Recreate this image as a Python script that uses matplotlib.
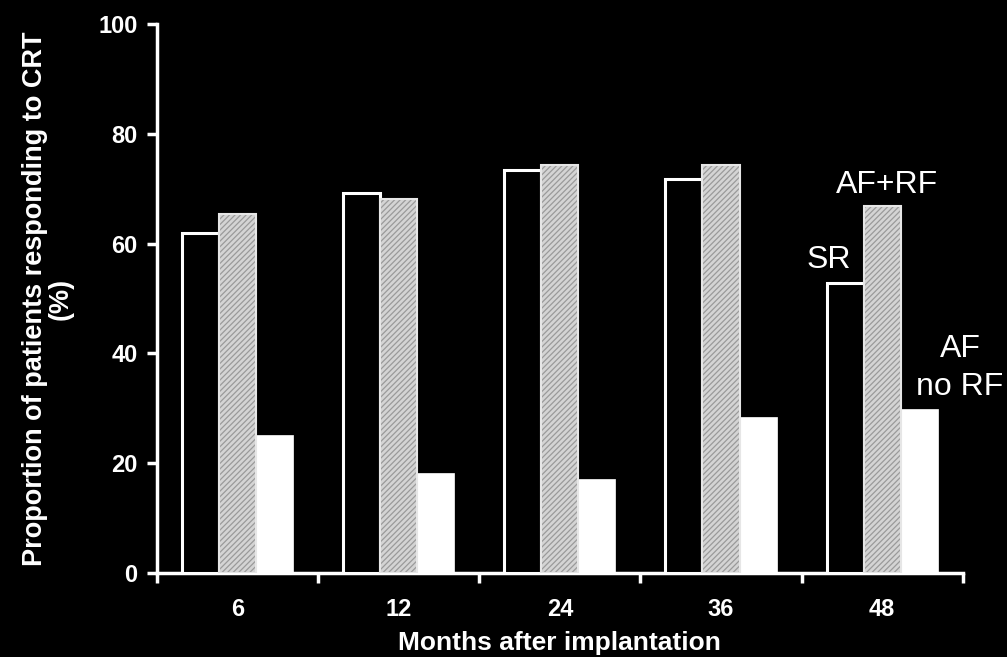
import numpy as np
import matplotlib

matplotlib.use("Agg")
import matplotlib.pyplot as plt

# Values
months = ["6", "12", "24", "36", "48"]
sr = [62, 69.2, 73.4, 71.8, 52.8]
af_rf = [65.4, 68.1, 74.3, 74.3, 66.8]
af_no_rf = [25.1, 18.2, 17.1, 28.4, 29.9]
y_ticks = [0, 20, 40, 60, 80, 100]

plt.rcParams["font.family"] = ["Liberation Sans", "DejaVu Sans"]
plt.rcParams["hatch.linewidth"] = 0.9

fig = plt.figure(figsize=(10.07, 6.57), dpi=100, facecolor="black")
ax = fig.add_axes([0.156, 0.128, 0.800, 0.8355], facecolor="black")

x = np.arange(len(months))
w = 0.23

ax.bar(x - w, sr, w, color="black", edgecolor="white", linewidth=2.2, zorder=3)
# gray textured bars: hatch drawn in a mid gray, then a light outline on top
ax.bar(x, af_rf, w, color="#d4d4d4", edgecolor="#9a9a9a", hatch="//////", linewidth=0, zorder=3)
ax.bar(x, af_rf, w, fill=False, edgecolor="#e6e6e6", linewidth=1.5, zorder=4)
ax.bar(x + w, af_no_rf, w, color="white", edgecolor="white", linewidth=0.5, zorder=3)

ax.set_xlim(-0.5, len(months) - 0.5)
ax.set_ylim(0, 100)

for side in ["top", "right"]:
    ax.spines[side].set_visible(False)
for side in ["left", "bottom"]:
    ax.spines[side].set_color("white")
    ax.spines[side].set_linewidth(2.5)

ax.set_yticks(y_ticks)
ax.set_yticklabels([str(v) for v in y_ticks], fontsize=17, fontweight="bold", color="white")
ax.tick_params(axis="y", colors="white", length=7, width=2.5, direction="out", pad=7)

# major ticks at group boundaries, labels at group centres
ax.set_xticks(np.arange(-0.5, len(months), 1.0))
ax.set_xticklabels([])
ax.tick_params(axis="x", which="major", colors="white", length=7, width=2.5, direction="out")
ax.set_xticks(x, minor=True)
ax.set_xticklabels(months, minor=True, fontsize=17, fontweight="bold", color="white")
ax.tick_params(axis="x", which="minor", length=0, pad=18)

ax.set_xlabel("Months after implantation", fontsize=19, fontweight="bold", color="white", labelpad=7)
ax.set_ylabel("Proportion of patients responding to CRT\n(%)", fontsize=19.5,
              fontweight="bold", color="white", labelpad=18, linespacing=0.95)

# in-plot series labels next to the 48-month group
ax.text(x[-1] - w * 1.43, sr[-1] + 2.8, "SR", color="white", fontsize=23,
        ha="center", va="baseline")
ax.text(x[-1] + 0.03, af_rf[-1] + 2.4, "AF+RF", color="white", fontsize=23,
        ha="center", va="baseline")
ax.text(x[-1] + w * 2.1, af_no_rf[-1] + 1.2, "AF\nno RF", color="white", fontsize=23,
        ha="center", va="bottom", linespacing=1.35)

fig.savefig("out.png", dpi=100, facecolor="black")
